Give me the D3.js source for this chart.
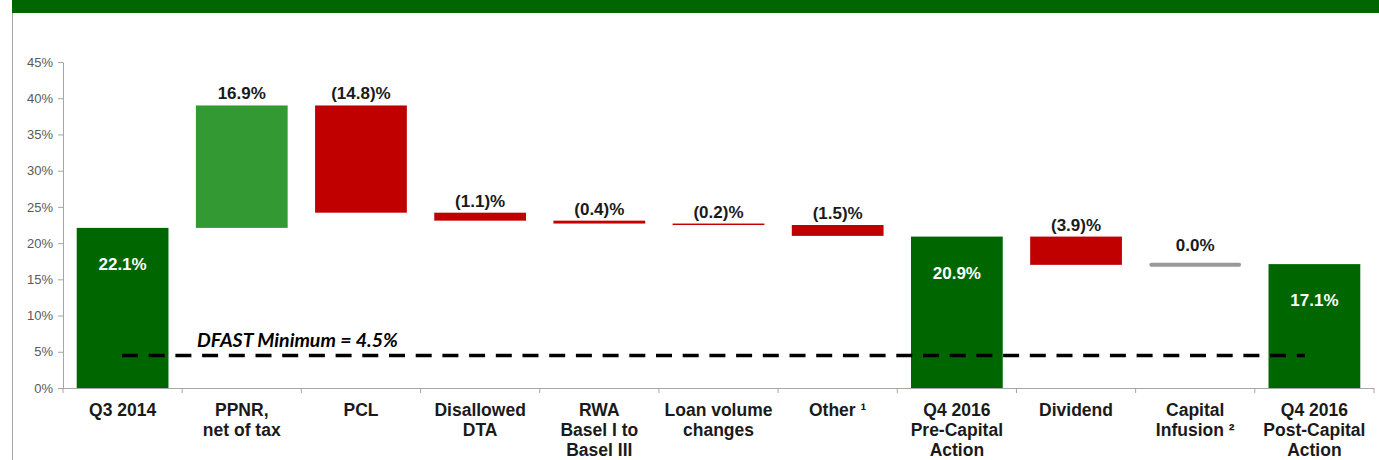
<!DOCTYPE html>
<html>
<head>
<meta charset="utf-8">
<script src="https://cdn.jsdelivr.net/npm/d3@7"></script>
<style>
  body { margin: 0; background: #fff; }
  svg { display: block; }
</style>
</head>
<body>
<svg width="1379" height="460"></svg>
<script>
// categories (each line of the label as its own entry)
const categorias = [
  ["Q3 2014"],
  ["PPNR,", "net of tax"],
  ["PCL"],
  ["Disallowed", "DTA"],
  ["RWA", "Basel I to", "Basel III"],
  ["Loan volume", "changes"],
  ["Other \u00b9"],
  ["Q4 2016", "Pre-Capital", "Action"],
  ["Dividend"],
  ["Capital", "Infusion \u00b2"],
  ["Q4 2016", "Post-Capital", "Action"]
];
// tipo: total = bar from zero, up / down = change, flat = no change
const tipos = ["total", "up", "down", "down", "down", "down", "down", "total", "down", "flat", "total"];
const valores = [22.1, 16.9, -14.8, -1.1, -0.4, -0.2, -1.5, 20.9, -3.9, 0.0, 17.1];
const rotulos = ["22.1%", "16.9%", "(14.8)%", "(1.1)%", "(0.4)%", "(0.2)%", "(1.5)%", "20.9%", "(3.9)%", "0.0%", "17.1%"];
const yTicks = [0, 5, 10, 15, 20, 25, 30, 35, 40, 45];
const minimoDFAST = 4.5;

const svg = d3.select("svg");
const W = 1379, H = 460;

// top banner and left frame
svg.append("rect").attr("x", 12).attr("y", 0).attr("width", W - 12).attr("height", 13).attr("fill", "#006600");
svg.append("line").attr("x1", 12.5).attr("x2", 12.5).attr("y1", 13).attr("y2", H)
  .attr("stroke", "#a6a6a6").attr("stroke-width", 1);

const margemEsq = 63, margemDir = 1374, margemTopo = 62, margemBase = 388;

const x = d3.scaleBand()
  .domain(d3.range(categorias.length))
  .range([margemEsq, margemDir])
  .paddingInner(0.23)
  .paddingOuter(0.115);

const y = d3.scaleLinear().domain([0, 45]).range([margemBase, margemTopo]);

// waterfall: start / end of each bar
let acumulado = 0;
const barras = valores.map((v, i) => {
  let inicio, fim;
  if (tipos[i] === "total") {
    inicio = 0; fim = v; acumulado = v;
  } else {
    inicio = acumulado; fim = acumulado + v; acumulado = fim;
  }
  return { i, tipo: tipos[i], inicio, fim, rotulo: rotulos[i] };
});

const cores = { total: "#006600", up: "#339933", down: "#c00000", flat: "#999999" };

// y axis
const eixoY = svg.append("g").attr("transform", `translate(${margemEsq},0)`)
  .call(d3.axisLeft(y).tickValues(yTicks).tickFormat(d => d + "%").tickSize(5).tickSizeOuter(0));
eixoY.select(".domain").attr("stroke", "#a6a6a6");
eixoY.selectAll(".tick line").attr("stroke", "#a6a6a6");
eixoY.selectAll(".tick text")
  .attr("x", -10)
  .attr("font-family", "Liberation Sans, Arial, sans-serif")
  .attr("font-size", 13)
  .attr("fill", "#595959");

// x axis line and ticks at band boundaries
svg.append("line").attr("x1", margemEsq).attr("x2", margemDir).attr("y1", margemBase + 0.5).attr("y2", margemBase + 0.5)
  .attr("stroke", "#a6a6a6");
const fronteiras = d3.range(categorias.length + 1).map(i => margemEsq + i * x.step());
svg.selectAll(".xtick").data(fronteiras).enter().append("line")
  .attr("class", "xtick")
  .attr("x1", d => d).attr("x2", d => d)
  .attr("y1", margemBase).attr("y2", margemBase + 5)
  .attr("stroke", "#a6a6a6");

// bars
svg.selectAll(".barra").data(barras.filter(d => d.tipo !== "flat")).enter().append("rect")
  .attr("class", "barra")
  .attr("x", d => x(d.i))
  .attr("width", x.bandwidth())
  .attr("y", d => y(Math.max(d.inicio, d.fim)))
  .attr("height", d => Math.max(1, Math.abs(y(d.inicio) - y(d.fim))))
  .attr("fill", d => cores[d.tipo]);

// flat (no change) marker
barras.filter(d => d.tipo === "flat").forEach(d => {
  svg.append("line")
    .attr("x1", x(d.i) + 2).attr("x2", x(d.i) + x.bandwidth() - 2)
    .attr("y1", y(d.fim)).attr("y2", y(d.fim))
    .attr("stroke", cores.flat).attr("stroke-width", 4).attr("stroke-linecap", "round");
});

// value labels
svg.selectAll(".rotulo").data(barras).enter().append("text")
  .attr("class", "rotulo")
  .attr("x", d => x(d.i) + x.bandwidth() / 2)
  .attr("y", d => d.tipo === "total"
    ? y(d.fim) + 42
    : y(Math.max(d.inicio, d.fim)) - (d.tipo === "flat" ? 14 : 6))
  .attr("text-anchor", "middle")
  .attr("font-family", "Liberation Sans, Arial, sans-serif")
  .attr("font-weight", "bold")
  .attr("font-size", 17)
  .attr("fill", d => d.tipo === "total" ? "#ffffff" : "#1a1a1a")
  .text(d => d.rotulo);

// category labels
const cat = svg.selectAll(".cat").data(categorias).enter().append("text")
  .attr("class", "cat")
  .attr("x", (d, i) => x(i) + x.bandwidth() / 2)
  .attr("y", margemBase + 28)
  .attr("text-anchor", "middle")
  .attr("font-family", "Liberation Sans, Arial, sans-serif")
  .attr("font-weight", "bold")
  .attr("font-size", 17.5)
  .attr("fill", "#1a1a1a");
cat.selectAll("tspan").data(d => d).enter().append("tspan")
  .attr("x", function () { return d3.select(this.parentNode).attr("x"); })
  .attr("dy", (d, j) => j === 0 ? 0 : 20)
  .text(d => d);

// DFAST minimum line
svg.append("line")
  .attr("x1", 122).attr("x2", 1305)
  .attr("y1", y(minimoDFAST)).attr("y2", y(minimoDFAST))
  .attr("stroke", "#000").attr("stroke-width", 3.5)
  .attr("stroke-dasharray", "16,10.7");
svg.append("text")
  .attr("x", 197).attr("y", y(minimoDFAST) - 8)
  .attr("font-family", "Lato, Carlito, sans-serif")
  .attr("font-style", "italic")
  .attr("font-weight", "bold")
  .attr("font-size", 19.5)
  .attr("fill", "#000")
  .text(`DFAST Minimum = ${minimoDFAST}%`);
</script>
</body>
</html>
